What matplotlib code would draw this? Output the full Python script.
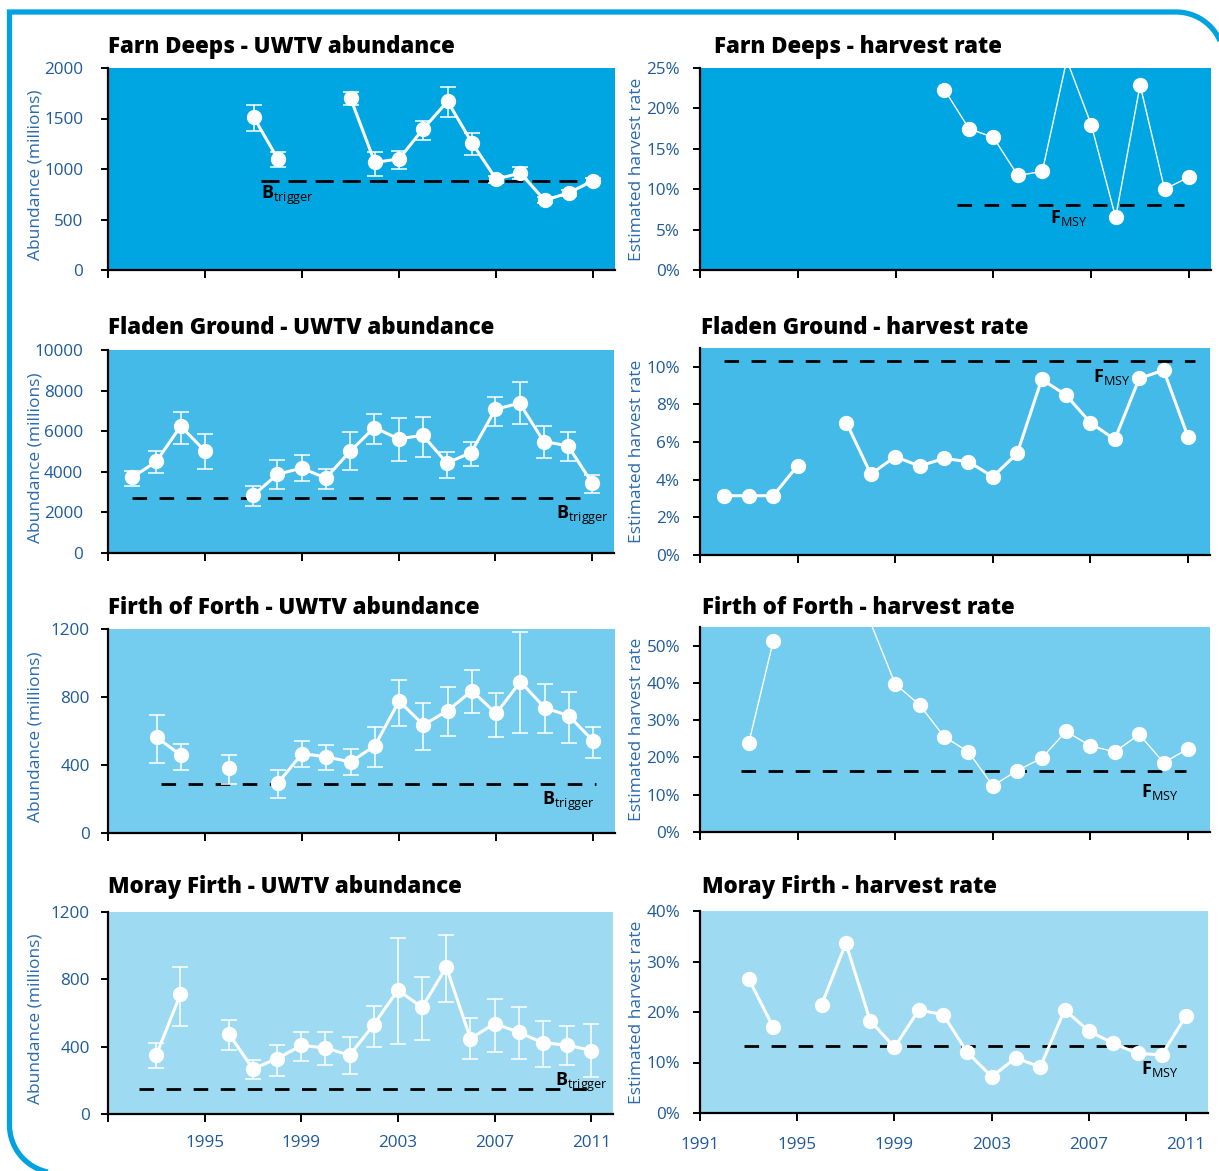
import numpy as np
import matplotlib
matplotlib.use("Agg")
import matplotlib.pyplot as plt
from matplotlib.ticker import FuncFormatter

nan = np.nan

# ---------------- DATA ----------------
# Farn Deeps
farn_ab_years = list(range(1997, 2012))
farn_ab = [1515, 1100, nan, nan, 1700, 1065, 1100, 1400, 1670, 1260, 900, 960, 690, 765, 885]
farn_ab_hi = [1630, 1170, nan, nan, 1765, 1165, 1175, 1480, 1810, 1360, 935, 1020, 720, 795, 910]
farn_ab_lo = [1380, 1015, nan, nan, 1630, 935, 1000, 1285, 1510, 1135, 865, 900, 660, 735, 860]
farn_btrigger = 880
farn_hr_years = list(range(2001, 2012))
farn_hr = [22.3, 17.5, 16.4, 11.7, 12.2, 26.0, 18.0, 6.5, 22.9, 10.0, 11.5]
farn_fmsy = 8.1

# Fladen Ground
fladen_ab_years = list(range(1992, 2012))
fladen_ab = [3720, 4510, 6250, 5030, nan, 2840, 3880, 4180, 3690, 5010, 6180, 5620, 5800, 4430,
             4950, 7080, 7380, 5490, 5280, 3440]
fladen_ab_hi = [4050, 5030, 6970, 5880, nan, 3310, 4590, 4820, 4130, 5950, 6870, 6640, 6720, 4980,
                5490, 7700, 8410, 6260, 5950, 3850]
fladen_ab_lo = [3280, 3920, 5360, 4130, nan, 2330, 3150, 3540, 3150, 4065, 5360, 4520, 4750, 3690,
                4310, 6260, 6340, 4690, 4520, 2980]
fladen_btrigger = 2700
fladen_hr_years = list(range(1992, 2012))
fladen_hr = [3.15, 3.15, 3.15, 4.75, nan, 7.03, 4.30, 5.22, 4.73, 5.13, 4.96, 4.16, 5.40, 9.33,
             8.50, 7.03, 6.14, 9.38, 9.82, 6.28]
fladen_fmsy = 10.3

# Firth of Forth
forth_ab_years = list(range(1993, 2012))
forth_ab = [564, 458, nan, 385, nan, 293, 467, 448, 418, 513, 776, 636, 719, 837, 703, 890, 737, 689, 542]
forth_ab_hi = [695, 522, nan, 460, nan, 369, 542, 515, 495, 625, 901, 766, 856, 956, 821, 1182, 874, 831, 625]
forth_ab_lo = [414, 369, nan, 291, nan, 208, 389, 369, 344, 389, 632, 487, 570, 703, 562, 587, 587, 532, 442]
forth_btrigger = 290
forth_hr_years = list(range(1993, 2012))
forth_hr = [23.9, 51.2, nan, nan, nan, 56.0, 39.7, 34.1, 25.6, 21.5, 12.4, 16.5, 19.8, 27.0, 23.1,
            21.5, 26.2, 18.6, 22.3]
forth_fmsy = 16.3

# Moray Firth
moray_ab_years = list(range(1993, 2012))
moray_ab = [351, 712, nan, 476, 268, 329, 407, 393, 349, 531, 736, 633, 873, 448, 537, 486, 422, 410, 377]
moray_ab_hi = [424, 873, nan, 557, 318, 408, 486, 486, 460, 640, 1045, 811, 1061, 571, 686, 633, 551, 524, 533]
moray_ab_lo = [272, 525, nan, 381, 210, 226, 317, 290, 236, 399, 416, 442, 666, 325, 371, 325, 282, 290, 220]
moray_btrigger = 150
moray_hr_years = list(range(1993, 2012))
moray_hr = [26.6, 17.1, nan, 21.4, 33.6, 18.3, 13.0, 20.4, 19.5, 12.0, 7.2, 10.9, 9.1, 20.4, 16.25,
            13.8, 11.8, 11.5, 19.3]
moray_fmsy = 13.3

titles_left = ["Farn Deeps - UWTV abundance", "Fladen Ground - UWTV abundance",
               "Firth of Forth - UWTV abundance", "Moray Firth - UWTV abundance"]
titles_right = ["Farn Deeps - harvest rate", "Fladen Ground - harvest rate",
                "Firth of Forth - harvest rate", "Moray Firth - harvest rate"]
x_ticks = [1991, 1995, 1999, 2003, 2007, 2011]
abund_ticks = [[0, 500, 1000, 1500, 2000], [0, 2000, 4000, 6000, 8000, 10000],
               [0, 400, 800, 1200], [0, 400, 800, 1200]]
hr_ticks = [[0, 5, 10, 15, 20, 25], [0, 2, 4, 6, 8, 10], [0, 10, 20, 30, 40, 50], [0, 10, 20, 30, 40]]

# ---------------- STYLE ----------------
plt.rcParams['font.family'] = ['Open Sans', 'DejaVu Sans']
plt.rcParams['mathtext.fontset'] = 'custom'
plt.rcParams['mathtext.rm'] = 'Open Sans'
plt.rcParams['mathtext.bf'] = 'Open Sans:bold'
plt.rcParams['mathtext.it'] = 'Open Sans:italic'
plt.rcParams['lines.scale_dashes'] = False

W, H = 1219, 1171
fig = plt.figure(figsize=(W / 100, H / 100), dpi=100)
fig.patch.set_facecolor('white')

row_colors = ['#00A6E2', '#43BAE8', '#74CDEF', '#9EDBF3']
tick_col = '#1E5A9C'
lab_col = '#2A6AAE'
border_col = '#00A3E0'

def px_axes(x0, y0, x1, y1):
    return fig.add_axes([x0 / W, 1 - y1 / H, (x1 - x0) / W, (y1 - y0) / H])

left_boxes = [(108, 68, 615, 270), (108, 350, 614, 553), (108, 629, 615, 833), (108, 912, 613, 1114)]
right_boxes = [(700, 68, 1211, 270), (700, 348, 1210, 555), (700, 627, 1210, 832), (700, 911, 1208, 1113)]
left_ylims = [(0, 2000), (0, 10000), (0, 1200), (0, 1200)]
right_ylims = [(0, 25), (0, 11), (0, 55), (0, 40)]
left_pads = [13, 13, 8, 8]
title_left_pos = [(108, 47), (108, 328), (108, 608), (108, 887)]
title_right_pos = [(714, 47), (701, 328), (702, 608), (702, 887)]

ab_sets = [(farn_ab_years, farn_ab, farn_ab_lo, farn_ab_hi, farn_btrigger),
           (fladen_ab_years, fladen_ab, fladen_ab_lo, fladen_ab_hi, fladen_btrigger),
           (forth_ab_years, forth_ab, forth_ab_lo, forth_ab_hi, forth_btrigger),
           (moray_ab_years, moray_ab, moray_ab_lo, moray_ab_hi, moray_btrigger)]
hr_sets = [(farn_hr_years, farn_hr, farn_fmsy), (fladen_hr_years, fladen_hr, fladen_fmsy),
           (forth_hr_years, forth_hr, forth_fmsy), (moray_hr_years, moray_hr, moray_fmsy)]

ab_ref_ext = [(1997.3, 2011.2), (1992.0, 2011.0), (1993.2, 2011.1), (1992.3, 2010.8)]
hr_ref_ext = [(2001.5, 2010.8), (1992.0, 2011.3), (1992.7, 2010.9), (1992.8, 2011.0)]
ab_lab_pos = [(1997.3, 740, 'left'), (2011.7, 1870, 'right'), (2008.9, 188, 'left'), (2009.5, 190, 'left')]
hr_lab_pos = [(2005.3, 6.4), (2007.1, 9.47), (2009.07, 10.7), (2009.16, 8.7)]
hr_thin = [True, False, True, False]
ab_dash = [(13, 6.5), (10.5, 9), (10.5, 9), (10.5, 9)]

XMIN, XMAX = 1991, 2011.9

def style_axes(ax, color, ylim, yticks, ypad, bottom_labels, left_panel, pct):
    ax.set_facecolor(color)
    ax.set_xlim(XMIN, XMAX)
    ax.set_ylim(*ylim)
    for s in ['top', 'right']:
        ax.spines[s].set_visible(False)
    for s in ['left', 'bottom']:
        ax.spines[s].set_linewidth(1.6)
        ax.spines[s].set_color('black')
    ax.set_yticks(yticks)
    if pct:
        ax.yaxis.set_major_formatter(FuncFormatter(lambda v, p: f"{v:.0f}%"))
    ax.set_xticks(x_ticks)
    if bottom_labels:
        labs = [str(t) for t in x_ticks]
        if left_panel:
            labs[0] = ''
        ax.set_xticklabels(labs)
    else:
        ax.set_xticklabels([''] * len(x_ticks))
    ax.tick_params(axis='y', direction='out', length=5, width=1.4, color='black',
                   labelcolor=tick_col, labelsize=12.3, pad=ypad)
    ax.tick_params(axis='x', direction='out', length=6, width=1.4, color='black',
                   labelcolor=tick_col, labelsize=12.3, pad=9 if left_panel else 11)

for i in range(4):
    # ---- abundance (left) ----
    ax = px_axes(*left_boxes[i])
    style_axes(ax, row_colors[i], left_ylims[i], abund_ticks[i], left_pads[i], i == 3, True, False)
    yrs, v, lo, hi, bt = ab_sets[i]
    v = np.array(v, float)
    lo = np.array(lo, float)
    hi = np.array(hi, float)
    ax.plot(ab_ref_ext[i], [bt, bt], color='black', lw=2.0, dashes=ab_dash[i], zorder=2,
            solid_capstyle='butt', dash_capstyle='butt')
    lx, ly, ha = ab_lab_pos[i]
    ax.text(lx, ly, r'$\mathbf{B}_{\mathrm{trigger}}$', fontsize=13, color='black', ha=ha, va='center', zorder=2)
    ax.errorbar(yrs, v, yerr=[v - lo, hi - v], fmt='none', ecolor='white', elinewidth=1.1,
                capsize=5.5, capthick=1.1, zorder=3)
    ax.plot(yrs, v, color='white', lw=2.2, marker='o', markersize=10, markerfacecolor='white',
            markeredgecolor='white', zorder=4, clip_on=False)
    ax.set_ylabel('Abundance (millions)', fontsize=12.5, color=lab_col)
    ax.yaxis.set_label_coords(-0.128, 0.47)
    tx, ty = title_left_pos[i]
    fig.text(tx / W, 1 - ty / H, titles_left[i], fontsize=16, fontweight='heavy', color='black',
             ha='left', va='center')

    # ---- harvest rate (right) ----
    ax = px_axes(*right_boxes[i])
    style_axes(ax, row_colors[i], right_ylims[i], hr_ticks[i], 9.4, i == 3, False, True)
    yrs, v, fm = hr_sets[i]
    v = np.array(v, float)
    ax.plot(hr_ref_ext[i], [fm, fm], color='black', lw=2.0, dashes=(10.5, 9), zorder=2,
            dash_capstyle='butt')
    lx, ly = hr_lab_pos[i]
    ax.text(lx, ly, r'$\mathbf{F}_{\mathrm{MSY}}$', fontsize=13, color='black', ha='left', va='center', zorder=2)
    ax.plot(yrs, v, color='white', lw=1.0 if hr_thin[i] else 2.2, zorder=3)
    top = right_ylims[i][1]
    vm = np.where(v <= top, v, np.nan)
    ax.plot(yrs, vm, linestyle='none', marker='o', markersize=10, markerfacecolor='white',
            markeredgecolor='white', zorder=4)
    ax.set_ylabel('Estimated harvest rate', fontsize=12.5, color=lab_col)
    ax.yaxis.set_label_coords(-0.108, 0.5)
    tx, ty = title_right_pos[i]
    fig.text(tx / W, 1 - ty / H, titles_right[i], fontsize=16, fontweight='heavy', color='black',
             ha='left', va='center')

# ---- rounded border ----
bg = fig.add_axes([0, 0, 1, 1], zorder=-10)
bg.set_xlim(0, W)
bg.set_ylim(H, 0)
bg.axis('off')
R = 48
xl, yt = 9.5, 12
cx_tr = 1176
cy_bl = 1125
arc_tr_x = cx_tr + R * np.cos(np.linspace(0, -np.pi / 2, 40))
arc_tr_y = (yt + R) + R * np.sin(np.linspace(0, -np.pi / 2, 40))
arc_bl_x = (xl + R) + R * np.cos(np.linspace(np.pi, np.pi / 2, 40))
arc_bl_y = cy_bl + R * np.sin(np.linspace(np.pi, np.pi / 2, 40))
px = np.concatenate([arc_tr_x, [xl], arc_bl_x, [xl + R + 40]])
py = np.concatenate([arc_tr_y, [yt], arc_bl_y, [cy_bl + R]])
bg.plot(px, py, color=border_col, lw=3.8, solid_joinstyle='miter', solid_capstyle='butt')

fig.savefig('out.png', dpi=100, facecolor='white')
